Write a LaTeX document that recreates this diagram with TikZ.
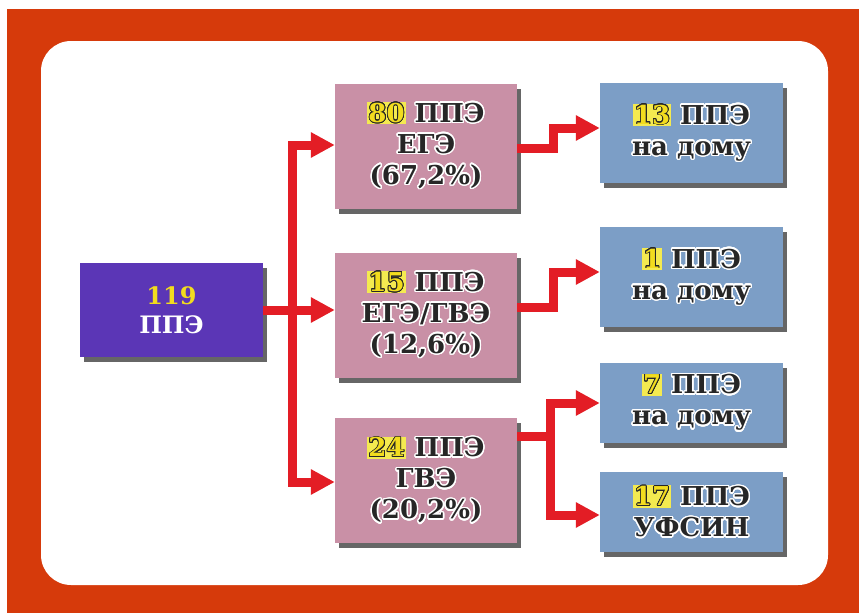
\documentclass[tikz,border=0pt]{standalone}
\usepackage{fontspec}
\setmainfont{DejaVu Serif}
\usepackage{contour}
\contourlength{1.4pt}
\contournumber{24}
\usetikzlibrary{arrows.meta,shadows,calc}
\definecolor{frameorange}{HTML}{D63A0B}
\definecolor{boxpurple}{HTML}{5B36B6}
\definecolor{boxpink}{HTML}{C990A6}
\definecolor{boxblue}{HTML}{7C9EC6}
\definecolor{arrowred}{HTML}{E31D25}
\definecolor{textdark}{HTML}{262626}
\definecolor{numyellow}{HTML}{F2DC1E}
\definecolor{glowyellow}{HTML}{F4EA50}
\newcommand{\dk}[1]{\contour{white}{\textcolor{textdark}{#1}}}
\newcommand{\numhl}[1]{{\setlength{\fboxsep}{1pt}\colorbox{glowyellow}{\contourlength{0.8pt}\contour{textdark}{\textcolor{numyellow}{#1}}}}}
\tikzset{
  boxbase/.style={rectangle, align=center, inner sep=2pt,
    font=\fontsize{26}{31}\selectfont\bfseries,
    drop shadow={shadow xshift=4pt,shadow yshift=-5pt,opacity=.7,fill=black!85}},
  rootbox/.style={boxbase, fill=boxpurple, minimum width=183pt, minimum height=94pt,
    font=\fontsize{24}{29}\selectfont\bfseries},
  pinkbox/.style={boxbase, fill=boxpink, minimum width=182pt, minimum height=125pt},
  bluebox/.style={boxbase, fill=boxblue, minimum width=183pt},
  conn/.style={draw=arrowred, line width=9pt, line join=miter, line cap=butt,
    -{Triangle[length=24pt,width=24pt]}},
  bar/.style={draw=arrowred, line width=9pt, line cap=butt},
}
\begin{document}
\begin{tikzpicture}[x=1pt,y=-1pt]
\fill[white] (0,0) rectangle (859,613);
\fill[frameorange] (7,9) rectangle (859,613);
\fill[white, rounded corners=30pt] (41,41) rectangle (828,585);
\useasboundingbox (0,0) rectangle (859,613);

\node[rootbox] (root) at (171.5,310) {\textcolor{numyellow}{119}\\\textcolor{white}{ППЭ}};

\node[pinkbox] (p1) at (426,146) {\numhl{80} \dk{ППЭ}\\\dk{ЕГЭ}\\\dk{(67,2\%)}};
\node[pinkbox] (p2) at (426,315) {\numhl{15} \dk{ППЭ}\\\dk{ЕГЭ/ГВЭ}\\\dk{(12,6\%)}};
\node[pinkbox] (p3) at (426,480.5) {\numhl{24} \dk{ППЭ}\\\dk{ГВЭ}\\\dk{(20,2\%)}};

\node[bluebox, minimum height=100pt] (b1) at (691.5,133) {\numhl{13} \dk{ППЭ}\\\dk{на дому}};
\node[bluebox, minimum height=100pt] (b2) at (691.5,277) {\numhl{1} \dk{ППЭ}\\\dk{на дому}};
\node[bluebox, minimum height=80pt] (b3) at (691.5,403) {\numhl{7} \dk{ППЭ}\\\dk{на дому}};
\node[bluebox, minimum height=80pt] (b4) at (691.5,512) {\numhl{17} \dk{ППЭ}\\\dk{УФСИН}};

% trunk from root
\coordinate (t) at ($(root.east)+(29,0)$);
\draw[conn] (root.east) -- (p2.west |- root.east);
\draw[conn, {Triangle[length=24pt,width=24pt]}-{Triangle[length=24pt,width=24pt]}]
  ($(p1.west)+(0,-1)$) -- (t |- {$(p1.west)+(0,-1)$}) -- (t |- {$(p3.west)+(0,1.5)$}) -- ($(p3.west)+(0,1.5)$);

% pink to blue
\coordinate (s1) at ($(p1.east)+(36,0)$);
\draw[conn] ($(p1.east)+(0,2)$) -- (s1 |- {$(p1.east)+(0,2)$}) -- (s1 |- {$(b1.west)+(0,-5)$}) -- ($(b1.west)+(0,-5)$);
\coordinate (s2) at ($(p2.east)+(36,0)$);
\draw[conn] ($(p2.east)+(0,-8)$) -- (s2 |- {$(p2.east)+(0,-8)$}) -- (s2 |- {$(b2.west)+(0,-5)$}) -- ($(b2.west)+(0,-5)$);
\coordinate (s3) at ($(p3.east)+(33,0)$);
\draw[bar] ($(p3.east)+(0,-44.5)$) -- (s3 |- {$(p3.east)+(0,-44.5)$});
\draw[conn, {Triangle[length=24pt,width=24pt]}-{Triangle[length=24pt,width=24pt]}]
  (b3.west) -- (s3 |- b3.west) -- (s3 |- {$(b4.west)+(0,3)$}) -- ($(b4.west)+(0,3)$);
\end{tikzpicture}
\end{document}
